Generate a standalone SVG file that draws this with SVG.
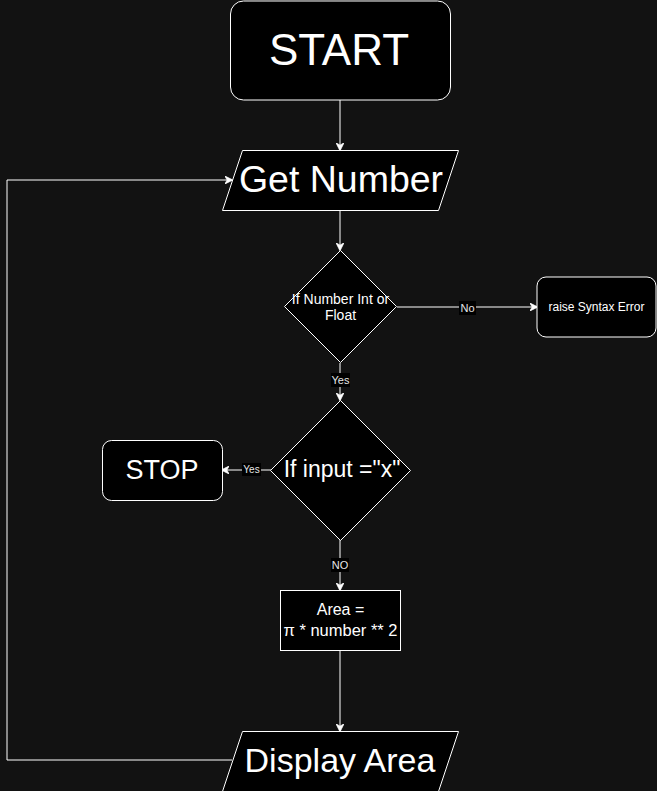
<svg xmlns="http://www.w3.org/2000/svg" width="657" height="791" viewBox="0 0 657 791">
<style>
.shape{fill:#000;stroke:#fff;stroke-width:1}
.edge{fill:none;stroke:#fff;stroke-width:1}
.t{fill:#fff;font-family:"Liberation Sans",Arial,sans-serif;text-anchor:middle}
.lbl{fill:#000}
.lt{fill:#e6e6e6;font-family:"Liberation Sans",Arial,sans-serif;text-anchor:middle;font-size:11px}
</style>
<defs>
<marker id="arr" viewBox="0 0 10 10" refX="9" refY="5" markerWidth="8" markerHeight="8" markerUnits="userSpaceOnUse" orient="auto">
<path d="M0,0 L10,5 L0,10 L3,5 Z" fill="#fff" stroke="#fff" stroke-width="1"/>
</marker>
</defs>
<rect width="657" height="791" fill="#121212"/>
<g id="connectors">
<path class="edge" d="M340,100 V150" marker-end="url(#arr)"/>
<path class="edge" d="M340,210 V250" marker-end="url(#arr)"/>
<path class="edge" d="M397,307 H537" marker-end="url(#arr)"/>
<rect class="lbl" x="459" y="301" width="17" height="14"/>
<text class="lt" x="467.5" y="312">No</text>
<path class="edge" d="M340,363 V400" marker-end="url(#arr)"/>
<rect class="lbl" x="331" y="373" width="19" height="14"/>
<text class="lt" x="340.5" y="384">Yes</text>
<path class="edge" d="M271,470 H222" marker-end="url(#arr)"/>
<rect class="lbl" x="242" y="463" width="19" height="13"/>
<text class="lt" x="251.5" y="473" style="font-size:10px">Yes</text>
<path class="edge" d="M340,540 V590" marker-end="url(#arr)"/>
<rect class="lbl" x="331" y="558" width="18" height="14"/>
<text class="lt" x="340" y="569">NO</text>
<path class="edge" d="M340,651 V731" marker-end="url(#arr)"/>
<path class="edge" d="M232,760 H7 V180 H232" marker-end="url(#arr)"/>
</g>
<g id="start">
<rect class="shape" x="230.5" y="1" width="220" height="99" rx="13"/>
<text class="t" x="339" y="65" font-size="44">START</text>
</g>
<g id="get-number">
<path class="shape" d="M242.5,150.5 H458.5 L438.5,210.5 H222.5 Z"/>
<text class="t" x="341" y="192" font-size="37.5">Get Number</text>
</g>
<g id="check-number">
<path class="shape" d="M340.5,250.5 L396.5,306.5 L340.5,362.5 L284.5,306.5 Z"/>
<text class="t" x="340.5" y="304" font-size="14">If Number Int or</text>
<text class="t" x="340.5" y="320" font-size="14">Float</text>
</g>
<g id="syntax-error">
<rect class="shape" x="537" y="277" width="119" height="60" rx="9"/>
<text class="t" x="596.5" y="311" font-size="12">raise Syntax Error</text>
</g>
<g id="check-x">
<path class="shape" d="M340.5,400.5 L410.5,470.5 L340.5,540.5 L270.5,470.5 Z"/>
<text class="t" x="342" y="477" font-size="23">If input ="x"</text>
</g>
<g id="stop">
<rect class="shape" x="102.5" y="440.5" width="120" height="60" rx="9"/>
<text class="t" x="162" y="479" font-size="27">STOP</text>
</g>
<g id="area">
<rect class="shape" x="280.5" y="590.5" width="120" height="60"/>
<text class="t" x="340.5" y="615" font-size="16">Area =</text>
<text class="t" x="340.5" y="636" font-size="16.5">π * number ** 2</text>
</g>
<g id="display-area">
<path class="shape" d="M242.5,731.5 H458.5 L438.5,791.5 H222.5 Z"/>
<text class="t" x="340" y="772" font-size="34">Display Area</text>
</g>
</svg>
